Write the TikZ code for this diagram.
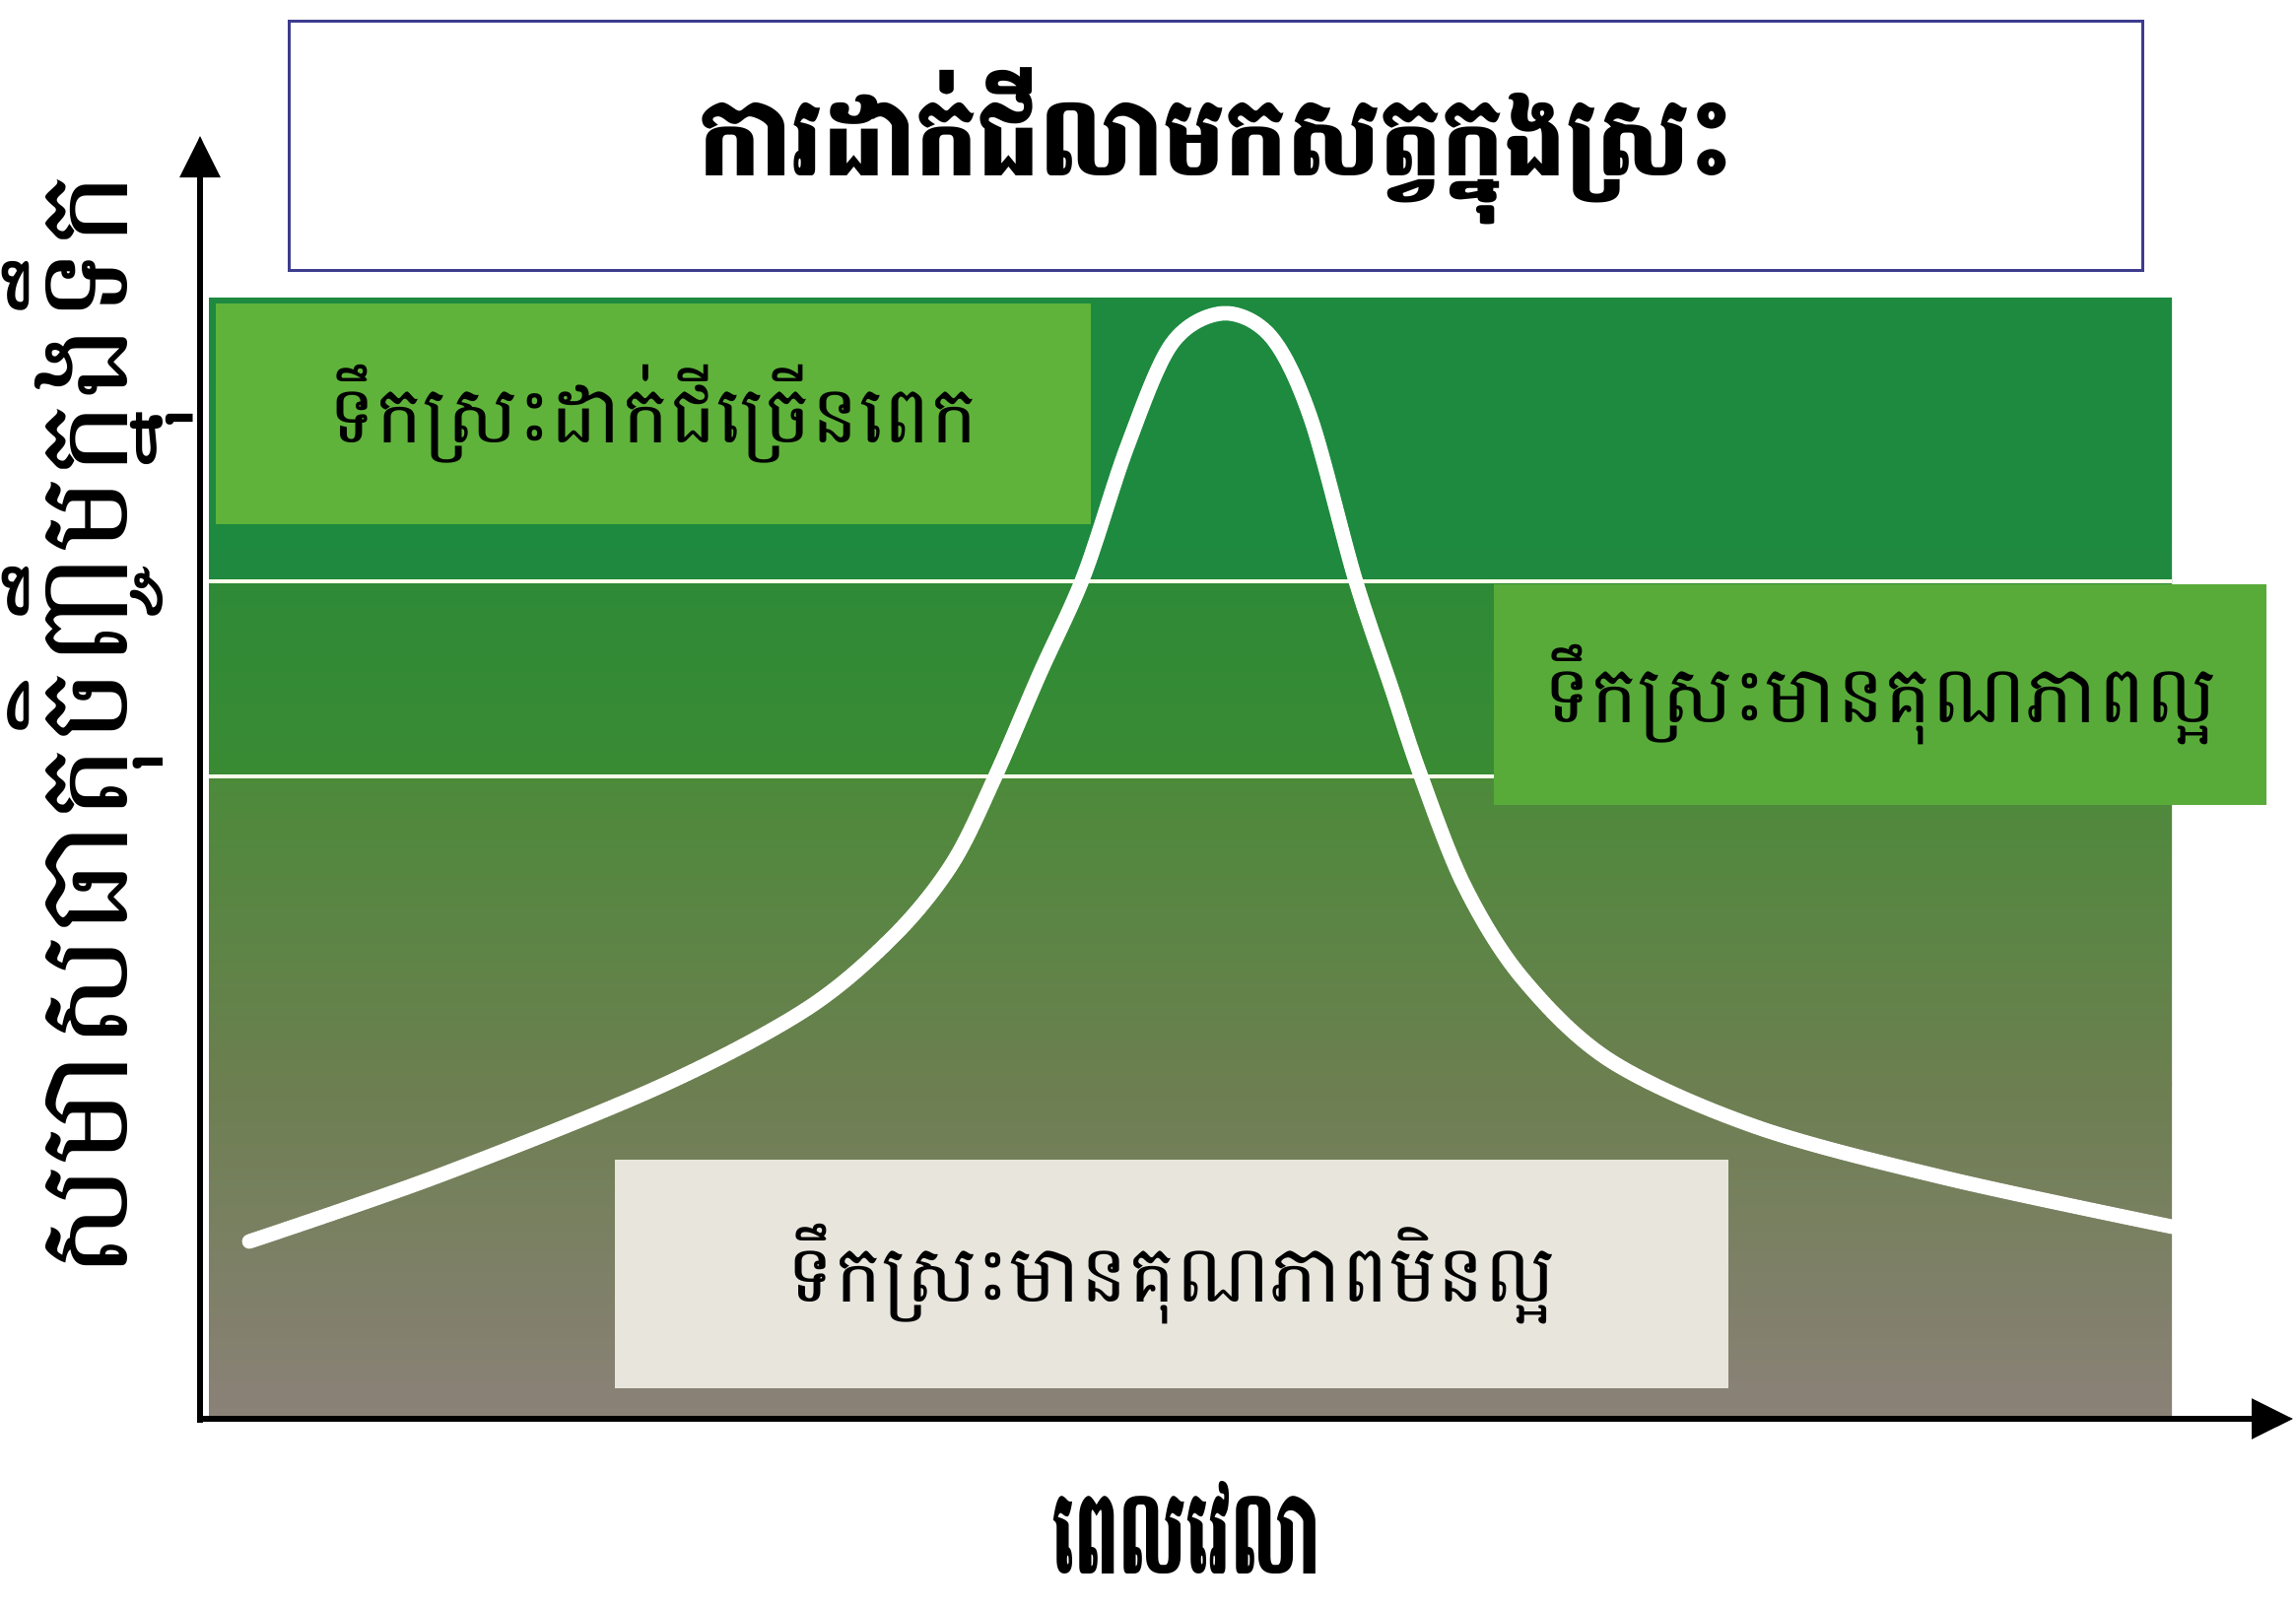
\documentclass[tikz,border=0pt]{standalone}
\usepackage{fontspec}
\usepackage{graphicx}
\newfontfamily\khmer[Script=Khmer]{Battambang}
\usetikzlibrary{arrows.meta}
\definecolor{topgreen}{HTML}{1D8A40}
\definecolor{midgreenA}{HTML}{2E8A37}
\definecolor{midgreenB}{HTML}{3A8B33}
\definecolor{lowgreen}{HTML}{4C8A3A}
\definecolor{olive}{HTML}{6C7F50}
\definecolor{graybrown}{HTML}{8B8178}
\definecolor{boxgreenA}{HTML}{5FB33A}
\definecolor{boxgreenB}{HTML}{58AB39}
\definecolor{boxgray}{HTML}{E8E5DD}
\definecolor{titleborder}{HTML}{3D3C8F}
\tikzset{
  labelbox/.style={inner sep=0pt, font=\khmer\fontsize{23}{28}\selectfont, text=black},
  axisline/.style={line width=1.6pt, black, -{Triangle[width=0.4cm,length=0.42cm]}},
  bandline/.style={line width=1.1pt, color=white!92!yellow},
  curveline/.style={line width=4.2pt, white, line cap=round}
}
\begin{document}
\begin{tikzpicture}[x=0.01cm,y=-0.01cm]
\useasboundingbox (0,0) rectangle (2330,1630);
\fill[white] (0,0) rectangle (2330,1630);
% background bands
\shade[top color=topgreen, bottom color=topgreen!90!midgreenA] (212,302) rectangle (2204,590);
\shade[top color=midgreenA, bottom color=midgreenB] (212,590) rectangle (2204,788);
\shade[top color=lowgreen, bottom color=olive] (212,788) rectangle (2204,1100);
\shade[top color=olive, bottom color=graybrown] (212,1100) rectangle (2204,1440);
% band lines
\draw[bandline] (212,590) -- (2204,590);
\draw[bandline] (212,788) -- (1516,788);
% curve
\draw[curveline] plot[smooth, tension=0.55] coordinates {
 (253,1260) (446,1193) (669,1103) (817,1025) (906,951) (966,877) (1010,788)
 (1055,684) (1100,584) (1144,453) (1189,349) (1241,318) (1290,342) (1330,424)
 (1375,587) (1412,698) (1441,785) (1486,899) (1545,993) (1635,1077) (1783,1144)
 (1976,1196) (2204,1245)};
% label boxes
\node[labelbox, fill=boxgreenA, minimum width=8.87cm, minimum height=2.23cm] (high) at (663,420) {ទឹកស្រះដាក់ជីច្រើនពេក};
\node[labelbox, fill=boxgreenB, minimum width=7.84cm, minimum height=2.23cm] (good) at (1908,705) {ទឹកស្រះមានគុណភាពល្អ};
\node[labelbox, fill=boxgray, minimum width=11.3cm, minimum height=2.31cm] (bad) at (1189,1293) {ទឹកស្រះមានគុណភាពមិនល្អ};
% title
\node[draw=titleborder, line width=1pt, fill=white, minimum width=18.8cm, minimum height=2.53cm, font=\khmer\bfseries\fontsize{32}{38}\selectfont] (title) at (1234,148) {\scalebox{0.88}[1]{ការដាក់ជីលាមកសត្វក្នុងស្រះ}};
% axes
\coordinate (O) at (203,1440);
\coordinate (Ytip) at (203,138);
\coordinate (Xtip) at (2327,1440);
\draw[axisline] (203,1444) -- (Ytip);
\draw[axisline] (O) -- (Xtip);
% axis labels
\node[inner sep=0pt, font=\khmer\bfseries\fontsize{34}{40}\selectfont] (xlab) at (1204,1550) {\scalebox{0.6}[1]{ពេលវេលា}};
\node[rotate=90, font=\khmer\fontsize{37}{44}\selectfont] (ylab) at (99,736) {សមាសធាតុចិញ្ចឹមក្នុងទឹក};
\end{tikzpicture}
\end{document}
